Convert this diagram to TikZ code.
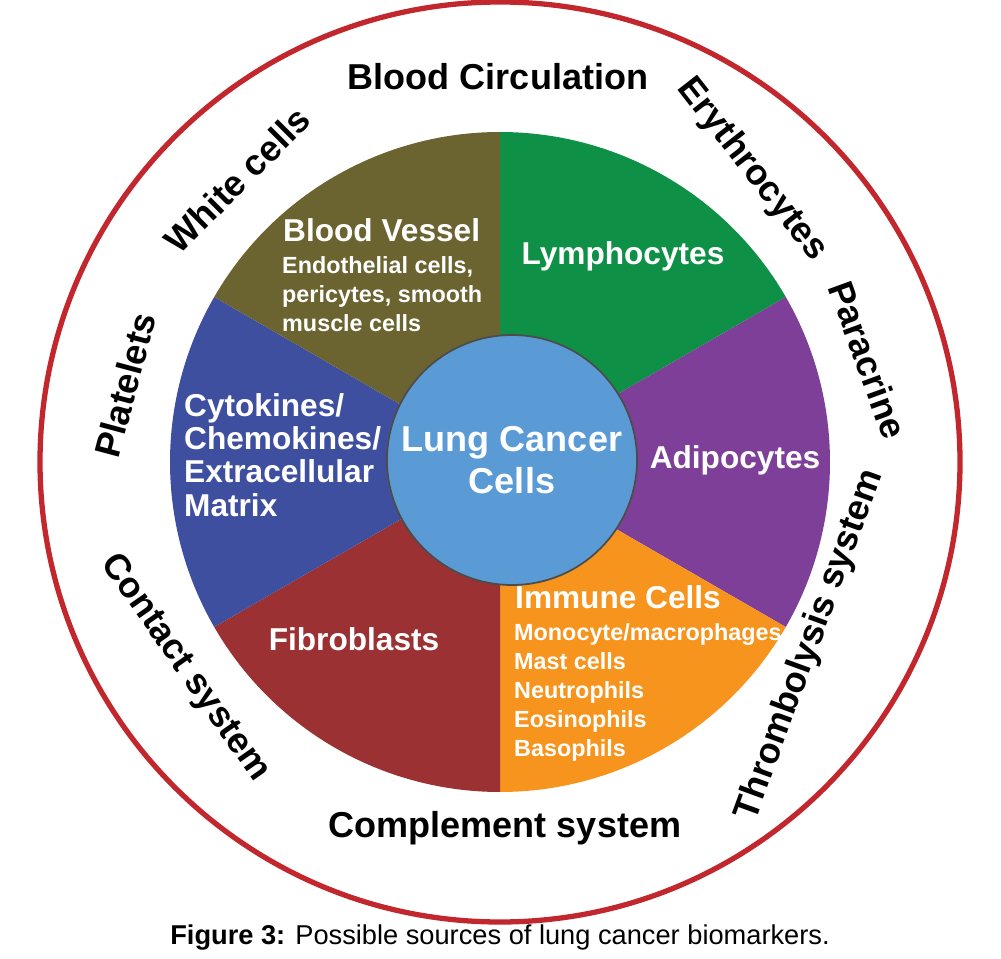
\documentclass[tikz,border=0pt]{standalone}
\usepackage{fontspec}
\setmainfont{Liberation Sans}
\definecolor{olive}{HTML}{6B6430}
\definecolor{grn}{HTML}{0E9147}
\definecolor{purp}{HTML}{7E3F98}
\definecolor{orng}{HTML}{F7941D}
\definecolor{dred}{HTML}{9B3133}
\definecolor{blu}{HTML}{3F4FA0}
\definecolor{lblu}{HTML}{5B9BD5}
\definecolor{ring}{HTML}{C1272D}
\begin{document}
\begin{tikzpicture}[x=0.02cm,y=-0.02cm,
 outer/.style={font=\bfseries\fontsize{20.5}{24}\selectfont,text=black},
 big/.style={font=\bfseries\fontsize{18}{21}\selectfont,text=white,align=left},
 small/.style={font=\bfseries\fontsize{13.3}{16.5}\selectfont,text=white,align=left}]
\useasboundingbox (0,0) rectangle (1001,959);
\coordinate (c) at (500,462);
\draw[ring,line width=3pt] (c) circle (460);
\foreach \a/\b/\col in {-90/-30/grn,-30/30/purp,30/90/orng,90/150/dred,150/210/blu,210/270/olive}
  \fill[\col] (c) -- ++(\a:330) arc[start angle=\a,end angle=\b,radius=330] -- cycle;
\node[circle,fill=lblu,draw=black!70,line width=1pt,minimum size=250*0.02cm,
  font=\bfseries\fontsize{20.5}{24}\selectfont,text=white,align=center] (core) at (512,460) {Lung Cancer\\Cells};
\node[outer] (bc) at (498,77) {Blood Circulation};
\node[outer] (cs) at (505,828) {Complement system};
\node[outer,rotate=45] (wc) at (237,180) {White cells};
\node[outer,rotate=-52] (er) at (752,170) {Erythrocytes};
\node[outer,rotate=-70] (pa) at (868,360) {Paracrine};
\node[outer,rotate=70] (th) at (810,645) {Thrombolysis system};
\node[outer,rotate=-55] (co) at (185,668) {Contact system};
\node[outer,rotate=75] (pl) at (125,385) {Platelets};
\node[big,anchor=west] (bv) at (277,230) {Blood Vessel};
\node[small,anchor=north west] (bvs) at (276,250) {Endothelial cells,\\pericytes, smooth\\muscle cells};
\node[big] (ly) at (623,256) {Lymphocytes};
\node[big] (ad) at (735,460) {Adipocytes};
\node[big,anchor=west] (ic) at (509,597) {Immune Cells};
\node[small,anchor=north west] (ics) at (508,617) {Monocyte/macrophages\\Mast cells\\Neutrophils\\Eosinophils\\Basophils};
\node[big] (fb) at (354,639) {Fibroblasts};
\node[big,anchor=west,font=\bfseries\fontsize{18}{19}\selectfont] (ck) at (178,455) {Cytokines/\\Chemokines/\\Extracellular\\Matrix};
\node[font=\fontsize{15.5}{18}\selectfont] (cap) at (500,938) {\textbf{Figure 3:} Possible sources of lung cancer biomarkers.};
\end{tikzpicture}
\end{document}
